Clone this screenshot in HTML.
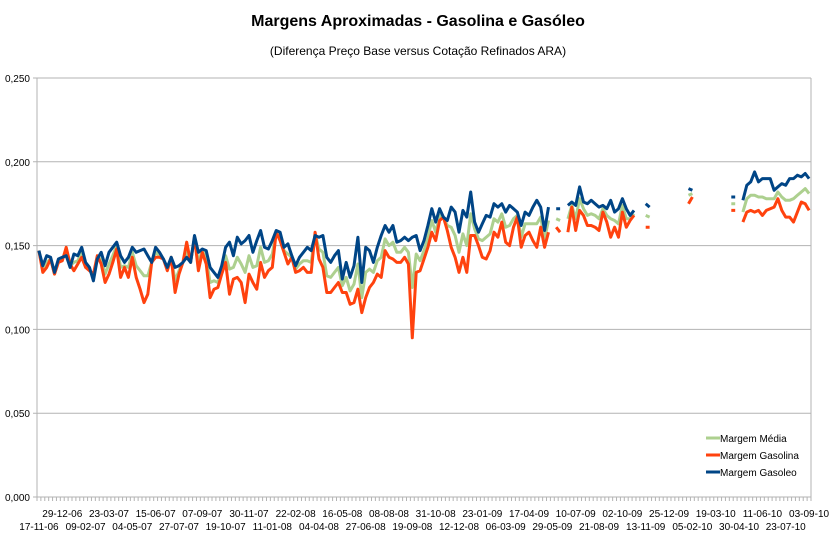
<!DOCTYPE html>
<html><head><meta charset="utf-8">
<style>
html,body{margin:0;padding:0;background:#fff;}
svg text{font-family:"Liberation Sans",Arial,sans-serif;}
</style></head>
<body>
<svg id="chart" width="836" height="540" viewBox="0 0 836 540" xmlns="http://www.w3.org/2000/svg">
<text x="418" y="26" text-anchor="middle" font-size="16" font-weight="bold" fill="#000">Margens Aproximadas - Gasolina e Gasóleo</text>
<text x="418" y="55" text-anchor="middle" font-size="12" fill="#000">(Diferença Preço Base versus Cotação Refinados ARA)</text>
<g id="grid"></g>
<g id="series"></g>
<g id="xaxis"></g>
<g>
  <line x1="706" y1="438" x2="720" y2="438" stroke="#add08f" stroke-width="3"/>
  <text x="720" y="442" font-size="10" fill="#000">Margem Média</text>
  <line x1="706" y1="455" x2="720" y2="455" stroke="#ff420e" stroke-width="3"/>
  <text x="720" y="459" font-size="10" fill="#000">Margem Gasolina</text>
  <line x1="706" y1="472" x2="720" y2="472" stroke="#004586" stroke-width="3"/>
  <text x="720" y="476" font-size="10" fill="#000">Margem Gasoleo</text>
</g>
</svg>
<script>
const N = 199;
const firstDate = "2006-11-17";
const yTicks = [0, 0.05, 0.10, 0.15, 0.20, 0.25];
const yTickLabels = ["0,000","0,050","0,100","0,150","0,200","0,250"];
const gasoleo = [
.147,.138,.144,.143,.134,.142,.143,.144,.137,.145,.144,.149,.140,.137,.129,.142,.146,.138,.146,.149,.152,.144,.140,.143,.149,.146,.147,.148,.144,.140,.149,.146,.142,.137,.143,.137,.138,.140,.143,.140,.156,.146,.148,.147,.137,.134,.131,.138,.149,.152,.144,.155,.151,.153,.156,.146,.153,.159,.149,.148,.153,.159,.158,.149,.151,.144,.138,.143,.146,.149,
.147,.156,.155,.156,.143,.140,.144,.147,.130,.140,.131,.138,.155,.128,.149,.147,.140,.149,.156,.162,.158,.162,.152,.153,.155,.153,.155,.156,.147,.153,.162,.172,.164,.172,.167,.165,.173,.170,.158,.171,.167,.182,.164,.158,.163,.168,.167,.175,.173,.175,.170,.174,.172,.170,.162,.170,.168,.173,.177,.173,.159,.173,
null,.172,.172,null,
.174,.176,.174,.185,.176,.175,.177,.175,.173,.174,.172,.177,.170,.172,.178,.172,.168,.171,
null,null,.175,.173,null,null,null,null,null,null,null,null,null,.184,.183,null,null,null,null,null,null,null,null,null,.179,.179,null,
.177,.186,.188,.194,.188,.190,.190,.190,.183,.185,.187,.186,.190,.190,.192,.191,.193,.190];
const gasolina = [
.147,.134,.137,.142,.133,.140,.141,.149,.139,.135,.139,.143,.137,.135,.133,.144,.139,.128,.133,.140,.148,.131,.137,.131,.143,.131,.124,.116,.121,.140,.143,.143,.142,.135,.143,.122,.133,.140,.152,.140,.155,.135,.146,.139,.119,.124,.125,.133,.140,.121,.130,.131,.128,.116,.133,.128,.124,.140,.131,.135,.137,.158,.153,.146,.139,.143,.134,.135,.137,.134,
.134,.158,.142,.137,.122,.122,.125,.128,.122,.122,.115,.116,.124,.110,.119,.125,.128,.133,.131,.147,.143,.142,.140,.140,.143,.139,.095,.134,.135,.142,.149,.158,.153,.165,.167,.159,.149,.143,.134,.143,.134,.156,.156,.150,.143,.142,.147,.158,.155,.164,.152,.150,.161,.167,.149,.156,.158,.153,.149,.161,.149,.158,
null,.161,.158,null,
.158,.173,.159,.171,.168,.162,.162,.161,.159,.170,.164,.155,.161,.155,.170,.161,.165,.168,
null,null,.161,.161,null,null,null,null,null,null,null,null,null,.175,.179,null,null,null,null,null,null,null,null,null,.171,.171,null,
.164,.170,.171,.170,.171,.168,.171,.172,.173,.178,.171,.167,.167,.164,.170,.176,.175,.171];
const media = [
.147,.136,.140,.142,.133,.141,.142,.146,.138,.140,.141,.146,.138,.136,.131,.143,.142,.133,.139,.144,.150,.137,.138,.137,.146,.138,.135,.132,.132,.140,.146,.144,.142,.136,.143,.129,.135,.140,.147,.140,.155,.140,.147,.143,.128,.129,.128,.135,.144,.136,.137,.143,.139,.134,.144,.137,.138,.149,.140,.141,.145,.158,.155,.147,.145,.143,.136,.139,.141,.141,
.140,.157,.148,.146,.132,.131,.134,.137,.126,.131,.123,.127,.139,.119,.134,.136,.134,.141,.143,.154,.150,.152,.146,.146,.149,.146,.125,.145,.141,.147,.155,.165,.158,.168,.167,.162,.161,.156,.146,.157,.150,.169,.160,.154,.153,.155,.157,.166,.164,.169,.161,.162,.166,.168,.155,.163,.163,.163,.163,.167,.154,.165,
null,.166,.165,null,
.166,.174,.166,.178,.172,.168,.169,.168,.166,.172,.168,.166,.165,.163,.174,.166,.166,.169,
null,null,.168,.167,null,null,null,null,null,null,null,null,null,.180,.181,null,null,null,null,null,null,null,null,null,.175,.175,null,
.170,.178,.180,.180,.179,.179,.178,.178,.178,.182,.179,.177,.177,.178,.180,.182,.184,.181];

const NS = "http://www.w3.org/2000/svg";
const L = 37, R = 811, T = 78, B = 497;
const yMax = 0.25;
function xPos(i){ return L + (i + 0.5) * (R - L) / N; }
function yPos(v){ return B - v / yMax * (B - T); }
function mk(tag, attrs, parent){
  const e = document.createElementNS(NS, tag);
  for (const k in attrs) e.setAttribute(k, attrs[k]);
  parent.appendChild(e);
  return e;
}
const grid = document.getElementById('grid');
yTicks.forEach((t, k) => {
  const y = yPos(t);
  const gl = mk('line', {x1: L - 4, x2: R, y1: y, y2: y, stroke: '#b3b3b3', 'stroke-width': 1}, grid);
  
  
  const tx = mk('text', {x: 30, y: y + 4, 'text-anchor': 'end', 'font-size': 10, fill: '#000'}, grid);
  
  
  tx.textContent = yTickLabels[k];
});
const la = mk('line', {x1: L, x2: L, y1: T, y2: B, stroke: '#b3b3b3', 'stroke-width': 1}, grid);


const ra = mk('line', {x1: R, x2: R, y1: T, y2: B, stroke: '#b3b3b3', 'stroke-width': 1}, grid);



const xa = document.getElementById('xaxis');
const d0 = new Date(firstDate + "T12:00:00Z");
function fmt(d){
  const p = n => String(n).padStart(2, '0');
  return p(d.getUTCDate()) + '-' + p(d.getUTCMonth() + 1) + '-' + String(d.getUTCFullYear()).slice(2);
}
for (let i = 0; i <= N; i++) {
  const x = L + i * (R - L) / N;
  const tk = mk('line', {x1: x, x2: x, y1: B, y2: B + 4, stroke: '#b3b3b3', 'stroke-width': 1}, xa);
  
  
}
for (let i = 0; i < N; i += 6) {
  const d = new Date(d0.getTime() + i * 7 * 86400000);
  const upper = (i / 6) % 2 === 1;
  const t = mk('text', {x: xPos(i), y: upper ? 517 : 530, 'text-anchor': 'middle', 'font-size': 10, fill: '#000'}, xa);
  
  
  t.textContent = fmt(d);
}

const sg = document.getElementById('series');
function drawSeries(arr, color, w, name){
  let d = '', prev = false;
  arr.forEach((v, i) => {
    if (v === null || v === undefined) { prev = false; return; }
    d += (prev ? 'L' : 'M') + xPos(i).toFixed(1) + ' ' + yPos(v).toFixed(1) + ' ';
    prev = true;
  });
  const p = mk('path', {d: d, fill: 'none', stroke: color, 'stroke-width': w, 'stroke-linejoin': 'round'}, sg);
  
  
}
drawSeries(media, '#add08f', 3, 'series-margem-media');
drawSeries(gasolina, '#ff420e', 3, 'series-margem-gasolina');
drawSeries(gasoleo, '#004586', 3, 'series-margem-gasoleo');
</script>
</body></html>
